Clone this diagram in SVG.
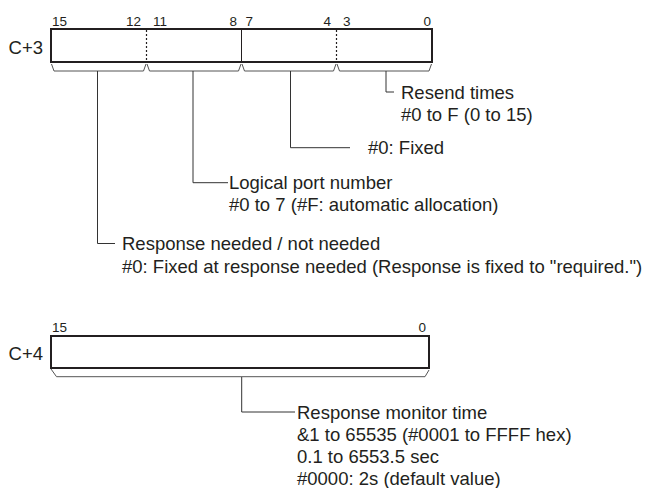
<svg xmlns="http://www.w3.org/2000/svg" width="647" height="488" viewBox="0 0 647 488">
<style>
.t{font-family:"Liberation Sans",Arial,sans-serif;font-size:18.5px;fill:#231f20}
.b{font-family:"Liberation Sans",Arial,sans-serif;font-size:13.5px;fill:#231f20}
.box{fill:#fff;stroke:#231f20;stroke-width:2}
.div{stroke:#231f20;stroke-width:1;fill:none}
.dot{stroke:#231f20;stroke-width:1.2;stroke-dasharray:2 2;fill:none}
.br{stroke:#555;stroke-width:1;fill:none}
.c{stroke:#333;stroke-width:1;fill:none}
</style>
<rect width="647" height="488" fill="#fff"/>
<g id="wordC3">
<text class="t" x="43" y="54.3" text-anchor="end">C+3</text>
<text class="b" x="52" y="26">15</text>
<text class="b" x="141" y="26" text-anchor="end">12</text>
<text class="b" x="153" y="26">11</text>
<text class="b" x="237" y="26" text-anchor="end">8</text>
<text class="b" x="245.5" y="26">7</text>
<text class="b" x="331" y="26" text-anchor="end">4</text>
<text class="b" x="343" y="26">3</text>
<text class="b" x="431" y="26" text-anchor="end">0</text>
<rect class="box" x="51" y="29" width="381" height="33"/>
<line class="dot" x1="146.5" y1="30" x2="146.5" y2="61"/>
<line class="div" x1="241.5" y1="30" x2="241.5" y2="61"/>
<line class="dot" x1="336.5" y1="30" x2="336.5" y2="61"/>
<path class="br" d="M51.5,64 L54,71 H143.5 L146,64"/>
<path class="br" d="M147,64 L149.5,71 H238.5 L241,64"/>
<path class="br" d="M242,64 L244.5,71 H333.5 L336,64"/>
<path class="br" d="M337,64 L339.5,71 H429 L431.5,64"/>
</g>
<g id="wordC4">
<text class="t" x="43" y="359.5" text-anchor="end">C+4</text>
<text class="b" x="52" y="331.7">15</text>
<text class="b" x="426" y="331.7" text-anchor="end">0</text>
<rect class="box" x="51" y="336" width="378" height="32"/>
<path class="br" d="M51,369 L56.5,376.7 H425 L429,370"/>
</g>
<g id="connectors">
<path class="c" d="M386,71 V92 H394"/>
<path class="c" d="M290.5,71 V147.7 H350"/>
<path class="c" d="M193,71 V182.7 H228"/>
<path class="c" d="M97.5,71 V243.5 H115"/>
<path class="c" d="M241.7,377 V412 H295"/>
</g>
<g id="resend">
<text class="t" x="401" y="98.5">Resend times</text>
<text class="t" x="401" y="120.5">#0 to F (0 to 15)</text>
</g>
<g id="fixed">
<text class="t" x="368" y="154.3">#0: Fixed</text>
</g>
<g id="logical">
<text class="t" x="229" y="189.3">Logical port number</text>
<text class="t" x="229" y="211.3">#0 to 7 (#F: automatic allocation)</text>
</g>
<g id="response">
<text class="t" x="122" y="250">Response needed / not needed</text>
<text class="t" x="122" y="272.5">#0: Fixed at response needed (Response is fixed to "required.")</text>
</g>
<g id="monitor">
<text class="t" x="297" y="418.6">Response monitor time</text>
<text class="t" x="297" y="440.8">&amp;1 to 65535 (#0001 to FFFF hex)</text>
<text class="t" x="297" y="463">0.1 to 6553.5 sec</text>
<text class="t" x="297" y="484.5">#0000: 2s (default value)</text>
</g>
</svg>
